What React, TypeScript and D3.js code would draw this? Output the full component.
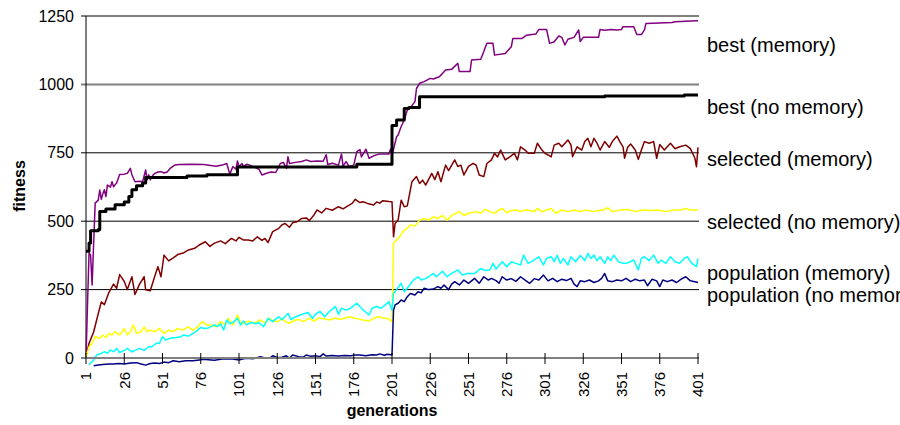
import React from "react";
import * as d3 from "d3";

// [generation, fitness] pairs
const bestMemory: [number, number][] = [
  [1, 0], [2, 200], [3, 384], [4, 376], [5, 267], [6, 420], [7, 566], [9, 577], [10, 614], [11, 580],
  [12, 600], [13, 615], [14, 590], [15, 632], [17, 625], [18, 644], [19, 626], [21, 640], [23, 671],
  [26, 672], [28, 675], [30, 693], [31, 670], [33, 644], [36, 646], [38, 644], [40, 687], [41, 651],
  [42, 670], [43, 651], [45, 670], [46, 675], [48, 680], [50, 681], [52, 676], [54, 680], [56, 693],
  [59, 705], [62, 707], [70, 708], [78, 707], [86, 701], [90, 705], [93, 711], [95, 672], [97, 700],
  [99, 690], [100, 720], [101, 700], [103, 711], [104, 700], [106, 708], [108, 705], [110, 700],
  [114, 690], [116, 669], [119, 675], [122, 680], [125, 678], [128, 711], [130, 715], [132, 693],
  [133, 736], [134, 711], [138, 715], [142, 718], [145, 724], [148, 718], [152, 720], [156, 719],
  [158, 743], [159, 707], [162, 712], [166, 705], [168, 746], [169, 701], [171, 718], [173, 700],
  [176, 705], [178, 754], [180, 762], [181, 735], [184, 763], [186, 730], [189, 739], [193, 746],
  [199, 746], [200, 763], [201, 740], [204, 809], [205, 815], [207, 846], [209, 870], [211, 906],
  [213, 915], [216, 937], [217, 985], [219, 1004], [222, 1010], [226, 1022], [228, 1020], [232, 1028],
  [236, 1053], [240, 1055], [244, 1077], [245, 1047], [252, 1047], [253, 1089], [259, 1092],
  [261, 1120], [263, 1150], [267, 1150], [268, 1107], [275, 1113], [279, 1138], [280, 1168],
  [286, 1168], [289, 1180], [295, 1184], [297, 1201], [302, 1201], [304, 1150], [307, 1156],
  [310, 1177], [312, 1172], [314, 1144], [316, 1165], [320, 1172], [323, 1199], [324, 1157],
  [326, 1172], [336, 1172], [337, 1201], [340, 1198], [344, 1201], [348, 1199], [351, 1201],
  [352, 1211], [359, 1211], [361, 1182], [364, 1182], [366, 1199], [367, 1223], [384, 1226],
  [386, 1229], [400, 1233], [401, 1233],
];

const bestNoMemory: [number, number][] = [
  [1, 390], [3, 420], [4, 465], [9, 470], [10, 535], [14, 545], [20, 560], [26, 570], [29, 590],
  [31, 615], [34, 630], [38, 640], [40, 660], [67, 665], [80, 670], [100, 698], [178, 708],
  [201, 850], [204, 870], [209, 912], [212, 916], [219, 955], [340, 958], [392, 961], [401, 961],
];

const selectedMemory: [number, number][] = [
  [1, 5], [3, 54], [6, 95], [8, 140], [11, 205], [13, 195], [16, 240], [19, 270], [21, 255], [23, 305],
  [26, 280], [28, 250], [31, 297], [33, 232], [36, 270], [39, 297], [40, 249], [43, 246], [46, 300],
  [48, 334], [50, 297], [52, 376], [55, 355], [58, 366], [61, 378], [65, 385], [68, 395], [72, 401],
  [75, 413], [79, 425], [82, 408], [85, 420], [89, 428], [92, 418], [96, 437], [99, 428], [101, 441],
  [104, 431], [107, 431], [110, 428], [113, 443], [116, 430], [118, 437], [120, 422], [123, 462],
  [127, 474], [129, 486], [131, 492], [134, 478], [136, 494], [139, 498], [142, 510], [145, 512],
  [147, 502], [150, 523], [152, 541], [155, 530], [158, 547], [162, 540], [166, 553], [169, 545],
  [173, 559], [175, 565], [177, 580], [180, 568], [182, 571], [185, 565], [189, 559], [191, 570],
  [193, 566], [195, 575], [199, 572], [201, 571], [202, 443], [203, 492], [205, 504], [207, 577],
  [209, 553], [211, 556], [214, 644], [217, 663], [219, 638], [221, 650], [223, 632], [227, 675],
  [229, 652], [231, 681], [233, 644], [236, 705], [238, 685], [242, 724], [244, 700], [246, 705],
  [248, 669], [251, 700], [254, 711], [256, 705], [258, 669], [261, 663], [263, 711], [266, 724],
  [268, 748], [270, 735], [272, 760], [275, 724], [278, 735], [281, 748], [283, 724], [285, 772],
  [288, 760], [290, 748], [294, 748], [296, 785], [299, 760], [301, 748], [303, 742], [305, 735],
  [307, 778], [310, 785], [312, 772], [316, 797], [318, 778], [319, 736], [322, 772], [325, 760],
  [327, 791], [329, 803], [331, 772], [333, 803], [335, 785], [337, 760], [340, 791], [343, 770],
  [345, 791], [348, 811], [350, 790], [352, 772], [353, 730], [355, 770], [357, 782], [360, 760],
  [362, 726], [364, 760], [366, 791], [369, 785], [372, 791], [374, 730], [376, 780], [379, 760],
  [383, 785], [386, 765], [389, 772], [393, 778], [396, 765], [399, 730], [400, 699], [401, 770],
];

const selectedNoMemory: [number, number][] = [
  [1, 5], [3, 41], [5, 54], [7, 78], [10, 72], [12, 84], [14, 75], [16, 90], [18, 84], [20, 96],
  [23, 84], [26, 108], [28, 84], [30, 96], [32, 121], [34, 90], [37, 96], [39, 114], [41, 96],
  [43, 102], [46, 96], [49, 108], [52, 90], [55, 102], [58, 96], [61, 108], [64, 102], [68, 114],
  [71, 102], [74, 114], [77, 133], [80, 120], [83, 121], [86, 114], [89, 133], [92, 121], [94, 145],
  [97, 121], [100, 157], [102, 130], [104, 127], [107, 135], [110, 128], [112, 131], [115, 139],
  [118, 128], [121, 145], [124, 133], [126, 133], [129, 143], [132, 131], [134, 127], [137, 137],
  [140, 141], [143, 133], [147, 145], [150, 135], [153, 146], [157, 143], [160, 139], [164, 146],
  [167, 141], [170, 145], [173, 151], [176, 146], [179, 143], [182, 139], [186, 135], [189, 145],
  [192, 151], [195, 146], [198, 145], [201, 133], [202, 419], [204, 431], [206, 443], [208, 462],
  [210, 470], [213, 486], [216, 482], [219, 504], [222, 510], [225, 504], [228, 516], [231, 510],
  [234, 521], [237, 504], [240, 521], [245, 535], [248, 521], [251, 529], [256, 535], [259, 529],
  [262, 543], [265, 535], [268, 529], [271, 541], [273, 547], [276, 531], [279, 539], [282, 541],
  [285, 535], [288, 541], [291, 539], [294, 535], [296, 547], [299, 535], [302, 541], [305, 547],
  [308, 529], [312, 541], [316, 535], [320, 541], [324, 535], [328, 541], [332, 535], [336, 539],
  [339, 541], [342, 549], [345, 535], [350, 541], [355, 543], [360, 535], [365, 541], [370, 539],
  [375, 541], [380, 535], [385, 541], [390, 541], [393, 547], [396, 541], [401, 541],
];

const populationMemory: [number, number][] = [
  [3, -25], [6, -7], [8, 11], [11, 17], [13, 23], [15, 17], [17, 29], [19, 23], [21, 35], [23, 20],
  [26, 28], [28, 35], [31, 22], [33, 28], [36, 35], [39, 28], [42, 41], [44, 41], [47, 54], [49, 54],
  [51, 78], [53, 66], [56, 72], [60, 75], [63, 78], [65, 84], [68, 80], [71, 90], [74, 102], [76, 112],
  [78, 108], [81, 110], [85, 121], [87, 115], [89, 125], [91, 102], [93, 139], [95, 125], [97, 130],
  [100, 145], [102, 121], [104, 135], [106, 121], [109, 130], [112, 125], [114, 130], [117, 114],
  [120, 145], [123, 133], [127, 151], [129, 140], [133, 163], [135, 140], [138, 151], [141, 157],
  [146, 166], [149, 145], [151, 160], [154, 170], [157, 151], [160, 170], [164, 188], [166, 160],
  [168, 182], [171, 175], [174, 182], [178, 200], [181, 182], [186, 157], [188, 182], [191, 188],
  [194, 182], [199, 206], [201, 175], [202, 236], [204, 250], [207, 273], [209, 242], [212, 262],
  [215, 285], [218, 297], [220, 285], [223, 290], [225, 297], [228, 309], [230, 297], [234, 317],
  [237, 297], [240, 309], [244, 322], [247, 303], [250, 309], [255, 309], [259, 327], [262, 320],
  [265, 322], [267, 346], [269, 325], [273, 352], [276, 334], [279, 352], [282, 346], [285, 340],
  [287, 376], [290, 346], [293, 355], [297, 370], [300, 340], [302, 364], [305, 370], [307, 352],
  [309, 375], [311, 346], [313, 364], [316, 340], [318, 370], [321, 352], [324, 375], [327, 356],
  [329, 382], [331, 364], [333, 376], [335, 356], [337, 370], [340, 346], [342, 370], [344, 356],
  [346, 376], [349, 352], [352, 346], [354, 346], [356, 350], [359, 358], [362, 322], [364, 364],
  [366, 370], [369, 356], [372, 376], [375, 346], [377, 358], [380, 346], [383, 370], [386, 352],
  [389, 346], [392, 364], [394, 370], [397, 346], [400, 334], [401, 364],
];

const populationNoMemory: [number, number][] = [
  [6, -28], [9, -26], [12, -24], [16, -22], [19, -22], [22, -20], [26, -22], [30, -18], [34, -17],
  [37, -22], [40, -26], [43, -20], [46, -18], [49, -20], [52, -15], [55, -17], [58, -10], [62, -14],
  [66, -10], [71, -10], [75, -7], [78, -5], [81, -6], [85, -8], [90, -4], [95, -3], [97, -4],
  [101, -7], [104, -3], [106, -1], [110, -3], [115, 5], [118, 0], [121, -1], [123, 8], [126, 2],
  [129, 3], [132, 8], [134, -1], [136, 11], [140, 5], [143, 3], [145, 11], [148, 6], [151, 8],
  [154, 5], [156, 15], [158, 7], [162, 9], [166, 7], [170, 9], [174, 8], [177, 11], [180, 11],
  [184, 8], [188, 12], [191, 11], [193, 15], [196, 10], [198, 14], [201, 11], [202, 175], [203, 194],
  [205, 200], [207, 212], [209, 206], [211, 224], [213, 236], [216, 230], [218, 242], [220, 238],
  [222, 255], [225, 250], [228, 252], [231, 261], [233, 255], [235, 267], [238, 250], [240, 270],
  [242, 279], [245, 267], [248, 285], [251, 273], [255, 291], [258, 273], [261, 297], [264, 285],
  [266, 291], [269, 283], [271, 273], [273, 297], [276, 285], [279, 290], [282, 280], [285, 297],
  [288, 285], [291, 273], [294, 290], [297, 285], [300, 303], [303, 282], [306, 291], [309, 279],
  [312, 288], [315, 283], [318, 291], [320, 270], [322, 261], [324, 282], [327, 279], [330, 285],
  [333, 276], [336, 282], [338, 291], [340, 309], [342, 282], [345, 279], [348, 285], [351, 282],
  [354, 291], [357, 279], [360, 288], [363, 282], [366, 285], [368, 264], [371, 288], [374, 282],
  [376, 261], [378, 285], [381, 279], [384, 285], [387, 276], [390, 288], [393, 297], [396, 282],
  [399, 279], [401, 276],
];

const xTicks = [1, 26, 51, 76, 101, 126, 151, 176, 201, 226, 251, 276, 301, 326, 351, 376, 401];
const yTicks = [0, 250, 500, 750, 1000, 1250];

const seriesLabels = [
  { text: "best (memory)", y: 45 },
  { text: "best (no memory)", y: 107 },
  { text: "selected (memory)", y: 159 },
  { text: "selected (no memory)", y: 222 },
  { text: "population (memory)", y: 273 },
  { text: "population (no memory)", y: 295 },
];

const font = "'Liberation Sans', Arial, sans-serif";

export default function App() {
  const x = d3.scaleLinear().domain([1, 401]).range([86, 698]);
  const y = d3.scaleLinear().domain([0, 1250]).range([358, 16]);

  const line = d3
    .line<[number, number]>()
    .x((d) => x(d[0]))
    .y((d) => y(d[1]));
  const stepLine = d3
    .line<[number, number]>()
    .x((d) => x(d[0]))
    .y((d) => y(d[1]))
    .curve(d3.curveStepAfter);

  const series = [
    { data: bestMemory, color: "#800080", width: 1.5 },
    { data: bestNoMemory, color: "#000000", width: 3, step: true },
    { data: selectedMemory, color: "#800000", width: 1.5 },
    { data: selectedNoMemory, color: "#FFFF00", width: 1.5 },
    { data: populationMemory, color: "#00FFFF", width: 1.5 },
    { data: populationNoMemory, color: "#000080", width: 1.5 },
  ];

  return (
    <svg
      width={900}
      height={425}
      style={{ position: "absolute", left: 0, top: 0, background: "#fff" }}
      fontFamily={font}
    >
      {/* gridlines */}
      {yTicks.slice(1).map((t) => (
        <line
          key={t}
          x1={81}
          x2={699}
          y1={y(t)}
          y2={y(t)}
          stroke={t >= 1000 ? "#808080" : "#000"}
          strokeWidth={t >= 1000 ? 2 : 1}
        />
      ))}
      {/* y axis */}
      <line x1={86} x2={86} y1={y(1250)} y2={y(0)} stroke="#000" strokeWidth={1} />
      {yTicks.map((t) => (
        <text key={t} x={74} y={y(t)} dy="0.35em" textAnchor="end" fontSize={16}>
          {t}
        </text>
      ))}
      {/* series */}
      {series.map((s, i) => (
        <path
          key={i}
          d={(s.step ? stepLine : line)(s.data) || ""}
          fill="none"
          stroke={s.color}
          strokeWidth={s.width}
          strokeLinejoin="round"
        />
      ))}
      {/* x axis */}
      <line x1={81} x2={699} y1={y(0)} y2={y(0)} stroke="#808080" strokeWidth={2} />
      {xTicks.map((t) => (
        <g key={t}>
          <line x1={x(t)} x2={x(t)} y1={353} y2={364} stroke="#000" strokeWidth={1} />
          <text
            transform={`translate(${x(t)},372) rotate(-90)`}
            dy="0.35em"
            textAnchor="end"
            fontSize={15}
          >
            {t}
          </text>
        </g>
      ))}
      {/* axis titles */}
      <text
        transform="translate(25,186) rotate(-90)"
        textAnchor="middle"
        fontSize={16}
        fontWeight="bold"
      >
        fitness
      </text>
      <text x={392} y={416} textAnchor="middle" fontSize={16} fontWeight="bold">
        generations
      </text>
      {/* series labels */}
      {seriesLabels.map((l) => (
        <text key={l.text} x={707} y={l.y} dy="0.35em" fontSize={20}>
          {l.text}
        </text>
      ))}
    </svg>
  );
}
